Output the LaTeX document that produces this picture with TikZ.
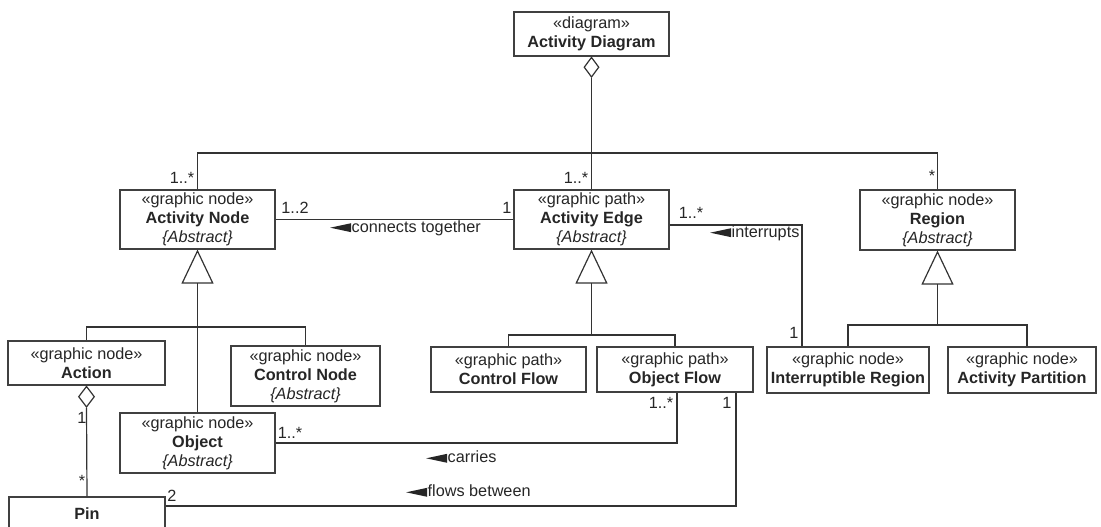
\documentclass[tikz,border=0pt]{standalone}
\usepackage{fontspec}
\setmainfont{Liberation Sans}
\usetikzlibrary{shapes.geometric,arrows.meta}
% small filled pointer placed in front of association names
\newcommand\ltri{\tikz[baseline=0pt,x=1bp,y=1bp]\fill[black!85] (0,4.5)--(21,9)--(21,0)--cycle;\hspace{0.5bp}}
\begin{document}
\begin{tikzpicture}[x=1bp,y=-1bp,line width=1.2bp,
  every node/.style={font=\fontsize{16.3}{19}\selectfont,text=black!85},
  box/.style={draw=black!75,fill=white,align=center,inner sep=0pt},
  conn/.style={draw=black!80},
  gen/.style={-{Triangle[open,length=34bp,width=32bp]}},
  agg/.style={diamond,draw=black!80,fill=white,inner sep=0pt,minimum width=15bp,minimum height=20bp},
  mult/.style={inner sep=0pt},
  assoc/.style={inner sep=0pt,anchor=west}]
\useasboundingbox (0,0) rectangle (1101,527);

% classes
\node[box,minimum width=155bp,minimum height=44bp] (ad) at (591.5,34) {«diagram»\\\textbf{Activity Diagram}};
\node[box,minimum width=155bp,minimum height=59bp] (an) at (197.5,219.5) {«graphic node»\\\textbf{Activity Node}\\\textit{\{Abstract\}}};
\node[box,minimum width=155bp,minimum height=59bp] (ae) at (591.5,219.5) {«graphic path»\\\textbf{Activity Edge}\\\textit{\{Abstract\}}};
\node[box,minimum width=155bp,minimum height=60bp] (rg) at (937.5,220) {«graphic node»\\\textbf{Region}\\\textit{\{Abstract\}}};
\node[box,minimum width=157bp,minimum height=44bp] (act) at (86.5,363) {«graphic node»\\\textbf{Action}};
\node[box,minimum width=149bp,minimum height=60bp] (cn) at (305.5,376) {«graphic node»\\\textbf{Control Node}\\\textit{\{Abstract\}}};
\node[box,minimum width=155bp,minimum height=60bp] (obj) at (197.5,443) {«graphic node»\\\textbf{Object}\\\textit{\{Abstract\}}};
\node[box,minimum width=156bp,minimum height=34bp] (pin) at (87,514) {\textbf{Pin}};
\node[box,minimum width=155bp,minimum height=45bp] (cf) at (508.5,369.5) {«graphic path»\\\textbf{Control Flow}};
\node[box,minimum width=156bp,minimum height=45bp] (of) at (675,369.5) {«graphic path»\\\textbf{Object Flow}};
\node[box,minimum width=162bp,minimum height=46bp] (ir) at (848,370) {«graphic node»\\\textbf{Interruptible Region}};
\node[box,minimum width=148bp,minimum height=46bp] (ap) at (1022,370) {«graphic node»\\\textbf{Activity Partition}};

% composition of the diagram
\node[agg,anchor=north] (d1) at (ad.south) {};
\coordinate (j1) at (591.5,153);
\draw[conn] (d1.south) -- (j1) -- (ae.north);
\draw[conn] (an.north) -- (an.north |- j1) -- (rg.north |- j1) -- (rg.north);

% pins owned by actions
\node[agg,anchor=north,minimum width=16bp,minimum height=21bp] (d2) at (act.south) {};
\draw[conn] (d2.south) -- (pin.north);

% specialisations
\coordinate (j2) at (197.5,327);
\draw[conn,gen] (j2) -- (an.south);
\draw[conn] (act.north) -- (act.north |- j2) -- (cn.north |- j2) -- (cn.north);
\draw[conn] (obj.north) -- (j2);

\coordinate (j3) at (591.5,335);
\draw[conn,gen] (j3) -- (ae.south);
\draw[conn] (cf.north) -- (cf.north |- j3) -- (of.north |- j3) -- (of.north);

\coordinate (j4) at (937.5,325);
\draw[conn,gen] (j4) -- (rg.south);
\draw[conn] (ir.north) -- (ir.north |- j4) -- ([xshift=5bp]ap.north |- j4) -- ([xshift=5bp]ap.north);

% associations
\draw[conn] (an.east) -- (ae.west);
\draw[conn] (ae.east |- 0,225) -- (802,225) -- (ir.north -| 802,0);
\draw[conn] (obj.east) -- (677,443) -- (of.south -| 677,0);
\draw[conn] (pin.east |- 0,506) -- (736,506) -- (of.south -| 736,0);

% association names
\node[assoc] (tconn) at (330,228) {\ltri connects together};
\node[assoc] (tint) at (710,233) {\ltri interrupts};
\node[assoc] (tcar) at (426,457) {\ltri carries};
\node[assoc] (tflo) at (406,491) {\ltri flows between};

% multiplicities
\node[mult] (m1) at (182,178) {1..*};
\node[mult] (m2) at (576,178) {1..*};
\node[mult] (m3) at (932,176) {*};
\node[mult] (m4) at (295,208) {1..2};
\node[mult] (m5) at (507,208) {1};
\node[mult] (m6) at (691,213) {1..*};
\node[mult] (m7) at (794,333) {1};
\node[mult] (m8) at (82,418) {1};
\node[mult] (m9) at (82,481) {*};
\node[mult] (m10) at (290,433) {1..*};
\node[mult] (m11) at (661,403) {1..*};
\node[mult] (m12) at (727,403) {1};
\node[mult] (m13) at (172,496) {2};
\end{tikzpicture}
\end{document}
